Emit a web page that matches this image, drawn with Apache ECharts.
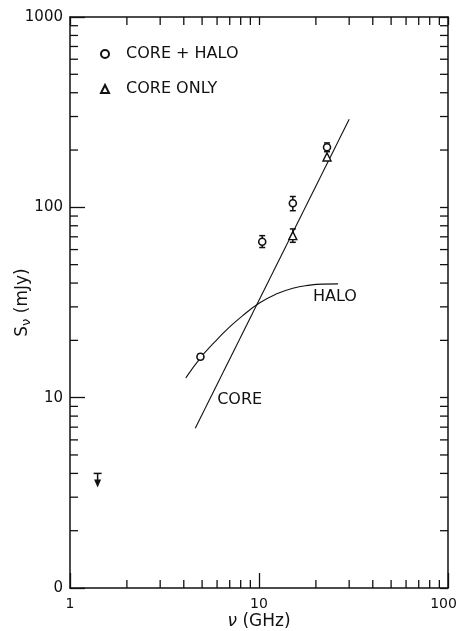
<!DOCTYPE html>
<html>
<head>
<meta charset="utf-8">
<script src="https://cdn.jsdelivr.net/npm/echarts@6/dist/echarts.min.js"></script>
<style>
html,body{margin:0;padding:0;background:#fff;}
#c{width:457px;height:631px;}
</style>
</head>
<body>
<div id="c"></div>
<script>
// ---- data (nu in GHz, S in mJy) ----
var coreHalo = [[4.9, 16.4], [10.4, 66], [15.1, 105], [22.9, 207]];
var coreHaloErr = [[4.9, 15.9, 16.9], [10.4, 61.5, 71], [15.1, 96, 114], [22.9, 196, 218]];
var coreOnly = [[15.1, 71], [22.9, 184]];
var coreOnlyErr = [[15.1, 65.5, 77]];
var upperLimit = [[1.4, 4.0]];
var coreLine = [[4.6, 6.9], [30, 290]];
var haloCurve = [[4.1, 12.7], [4.9, 16.2], [5.8, 19.5], [6.8, 22.9], [8.2, 27.0], [10.1, 31.5], [12.3, 35.0], [15.1, 37.6], [18.6, 39.0], [22.0, 39.5], [26.2, 39.6]];
var curveLabels = [[25.2, 33.8, 'HALO'], [7.9, 9.7, 'CORE']];
var xTicks = [1, 10, 100];
var yTicks = [1, 10, 100, 1000];
var yTickLabels = {1: '0', 10: '10', 100: '100', 1000: '1000'};
var xMinor = [2, 3, 4, 5, 6, 7, 8, 9, 20, 30, 40, 50, 60, 70, 80, 90];
var yMinor = [2, 3, 4, 5, 6, 7, 8, 9, 20, 30, 40, 50, 60, 70, 80, 90, 200, 300, 400, 500, 600, 700, 800, 900];

var FONT = '"DejaVu Sans", sans-serif';
var INK = '#111';

var chart = echarts.init(document.getElementById('c'), null, {renderer: 'canvas'});

var minorData = xMinor.map(function (v) { return [v, 1, 0]; })
  .concat(yMinor.map(function (v) { return [1, v, 1]; }));

function axisBase(pos) {
  return {
    type: 'log', logBase: 10, position: pos,
    axisLine: {show: true, onZero: false, lineStyle: {color: INK, width: 1.5}},
    splitLine: {show: false},
    minorTick: {show: false}
  };
}

var xBottom = Object.assign(axisBase('bottom'), {
  min: 1, max: 100,
  axisTick: {show: true, inside: true, length: 15, lineStyle: {color: INK, width: 1.3}},
  axisLabel: {show: true, margin: 9, fontSize: 14, fontFamily: FONT, color: INK,
    formatter: function (v) { return v === 100 ? '{a|100}{s| }' : String(v); },
    rich: {a: {fontSize: 14, fontFamily: FONT, color: INK}, s: {width: 9, fontSize: 14}}},
  name: '{i|ν} (GHz)', nameLocation: 'middle', nameGap: 25, nameMoveOverlap: false,
  nameTextStyle: {fontSize: 17, fontFamily: FONT, color: INK,
    rich: {i: {fontSize: 17, fontFamily: FONT, fontStyle: 'italic', color: INK}}}
});
var xTop = Object.assign(axisBase('top'), {
  min: 1, max: 100,
  axisTick: {show: true, inside: true, length: 8, lineStyle: {color: INK, width: 1.3}},
  axisLabel: {show: false}
});
var yLeft = Object.assign(axisBase('left'), {
  min: 1, max: 1000,
  axisTick: {show: true, inside: true, length: 15, lineStyle: {color: INK, width: 1.3}},
  axisLabel: {show: true, margin: 7, fontSize: 15, fontFamily: FONT, color: INK,
    formatter: function (v) { return yTickLabels[v] !== undefined ? yTickLabels[v] : ''; }},
  name: 'S{s|ν} (mJy)', nameLocation: 'middle', nameGap: 37, nameRotate: 90, nameMoveOverlap: false,
  nameTextStyle: {fontSize: 17, fontFamily: FONT, color: INK,
    rich: {s: {fontSize: 13, fontFamily: FONT, color: INK, padding: [8, 0, 0, 0]}}}
});
var yRight = Object.assign(axisBase('right'), {
  min: 1, max: 1000,
  axisTick: {show: true, inside: true, length: 8, lineStyle: {color: INK, width: 1.3}},
  axisLabel: {show: false}
});

function renderMinor(params, api) {
  var isY = api.value(2) === 1;
  var v = isY ? api.value(1) : api.value(0);
  var L = 8;
  var a, b, c, d;
  if (!isY) {
    a = api.coord([v, 1]); b = api.coord([v, 1000]);
    return {type: 'group', children: [
      {type: 'line', shape: {x1: a[0], y1: a[1], x2: a[0], y2: a[1] - L}, style: {stroke: INK, lineWidth: 1.3}},
      {type: 'line', shape: {x1: b[0], y1: b[1], x2: b[0], y2: b[1] + L}, style: {stroke: INK, lineWidth: 1.3}}
    ]};
  } else {
    c = api.coord([1, v]); d = api.coord([100, v]);
    return {type: 'group', children: [
      {type: 'line', shape: {x1: c[0], y1: c[1], x2: c[0] + L, y2: c[1]}, style: {stroke: INK, lineWidth: 1.3}},
      {type: 'line', shape: {x1: d[0], y1: d[1], x2: d[0] - L, y2: d[1]}, style: {stroke: INK, lineWidth: 1.3}}
    ]};
  }
}

function renderErr(params, api) {
  var x = api.value(0);
  var lo = api.coord([x, api.value(1)]);
  var hi = api.coord([x, api.value(2)]);
  var w = 3;
  return {type: 'group', children: [
    {type: 'line', shape: {x1: lo[0], y1: lo[1], x2: hi[0], y2: hi[1]}, style: {stroke: INK, lineWidth: 1.5}},
    {type: 'line', shape: {x1: lo[0] - w, y1: lo[1], x2: lo[0] + w, y2: lo[1]}, style: {stroke: INK, lineWidth: 1.5}},
    {type: 'line', shape: {x1: hi[0] - w, y1: hi[1], x2: hi[0] + w, y2: hi[1]}, style: {stroke: INK, lineWidth: 1.5}}
  ]};
}

function renderLimit(params, api) {
  var p = api.coord([api.value(0), api.value(1)]);
  var x = p[0], y = p[1];
  return {type: 'group', children: [
    {type: 'line', shape: {x1: x - 4, y1: y, x2: x + 4, y2: y}, style: {stroke: INK, lineWidth: 1.5}},
    {type: 'line', shape: {x1: x, y1: y, x2: x, y2: y + 8}, style: {stroke: INK, lineWidth: 1.5}},
    {type: 'polygon', shape: {points: [[x - 3.5, y + 6], [x + 3.5, y + 6], [x, y + 14]]}, style: {fill: INK}}
  ]};
}

var option = {
  backgroundColor: '#fff',
  animation: false,
  grid: {left: 70, right: 9, top: 17, bottom: 43, containLabel: false, outerBoundsMode: 'none'},
  legend: {
    show: true, orient: 'vertical', left: 100, top: 46, padding: 0,
    itemWidth: 8, itemHeight: 8, itemGap: 19,
    data: [
      {name: 'CORE + HALO', icon: 'circle'},
      {name: 'CORE ONLY', icon: 'triangle'}
    ],
    textStyle: {fontSize: 16, fontFamily: FONT, color: INK, padding: [0, 0, 0, 12]},
    selectedMode: false
  },
  xAxis: [xBottom, xTop],
  yAxis: [yLeft, yRight],
  series: [
    {type: 'custom', name: 'minor', xAxisIndex: 0, yAxisIndex: 0, renderItem: renderMinor,
      data: minorData, encode: {x: 0, y: 1}, silent: true, clip: false, z: 1},
    {type: 'line', name: 'core', data: coreLine, showSymbol: false, symbol: 'none',
      lineStyle: {color: INK, width: 1.1}, z: 2},
    {type: 'line', name: 'halo', data: haloCurve, smooth: 0.5, showSymbol: false, symbol: 'none',
      lineStyle: {color: INK, width: 1.1}, z: 2},
    {type: 'custom', name: 'errCH', renderItem: renderErr, data: coreHaloErr,
      encode: {x: 0, y: [1, 2]}, z: 3},
    {type: 'custom', name: 'errCO', renderItem: renderErr, data: coreOnlyErr,
      encode: {x: 0, y: [1, 2]}, z: 3},
    {type: 'custom', name: 'limit', renderItem: renderLimit, data: upperLimit,
      encode: {x: 0, y: 1}, z: 3},
    {type: 'scatter', name: 'CORE + HALO', data: coreHalo, symbol: 'circle', symbolSize: 7,
      itemStyle: {color: '#fff', borderColor: INK, borderWidth: 1.6, opacity: 1}, z: 4},
    {type: 'scatter', name: 'CORE ONLY', data: coreOnly, symbol: 'triangle', symbolSize: 8,
      itemStyle: {color: '#fff', borderColor: INK, borderWidth: 1.4, opacity: 1}, z: 4},
    {type: 'scatter', name: 'labels', data: curveLabels, symbolSize: 0, silent: true, z: 5,
      itemStyle: {opacity: 1},
      label: {show: true, position: 'inside', fontSize: 16, fontFamily: FONT, color: INK,
        formatter: function (p) { return p.value[2]; }}}
  ]
};
chart.setOption(option);
</script>
</body>
</html>
